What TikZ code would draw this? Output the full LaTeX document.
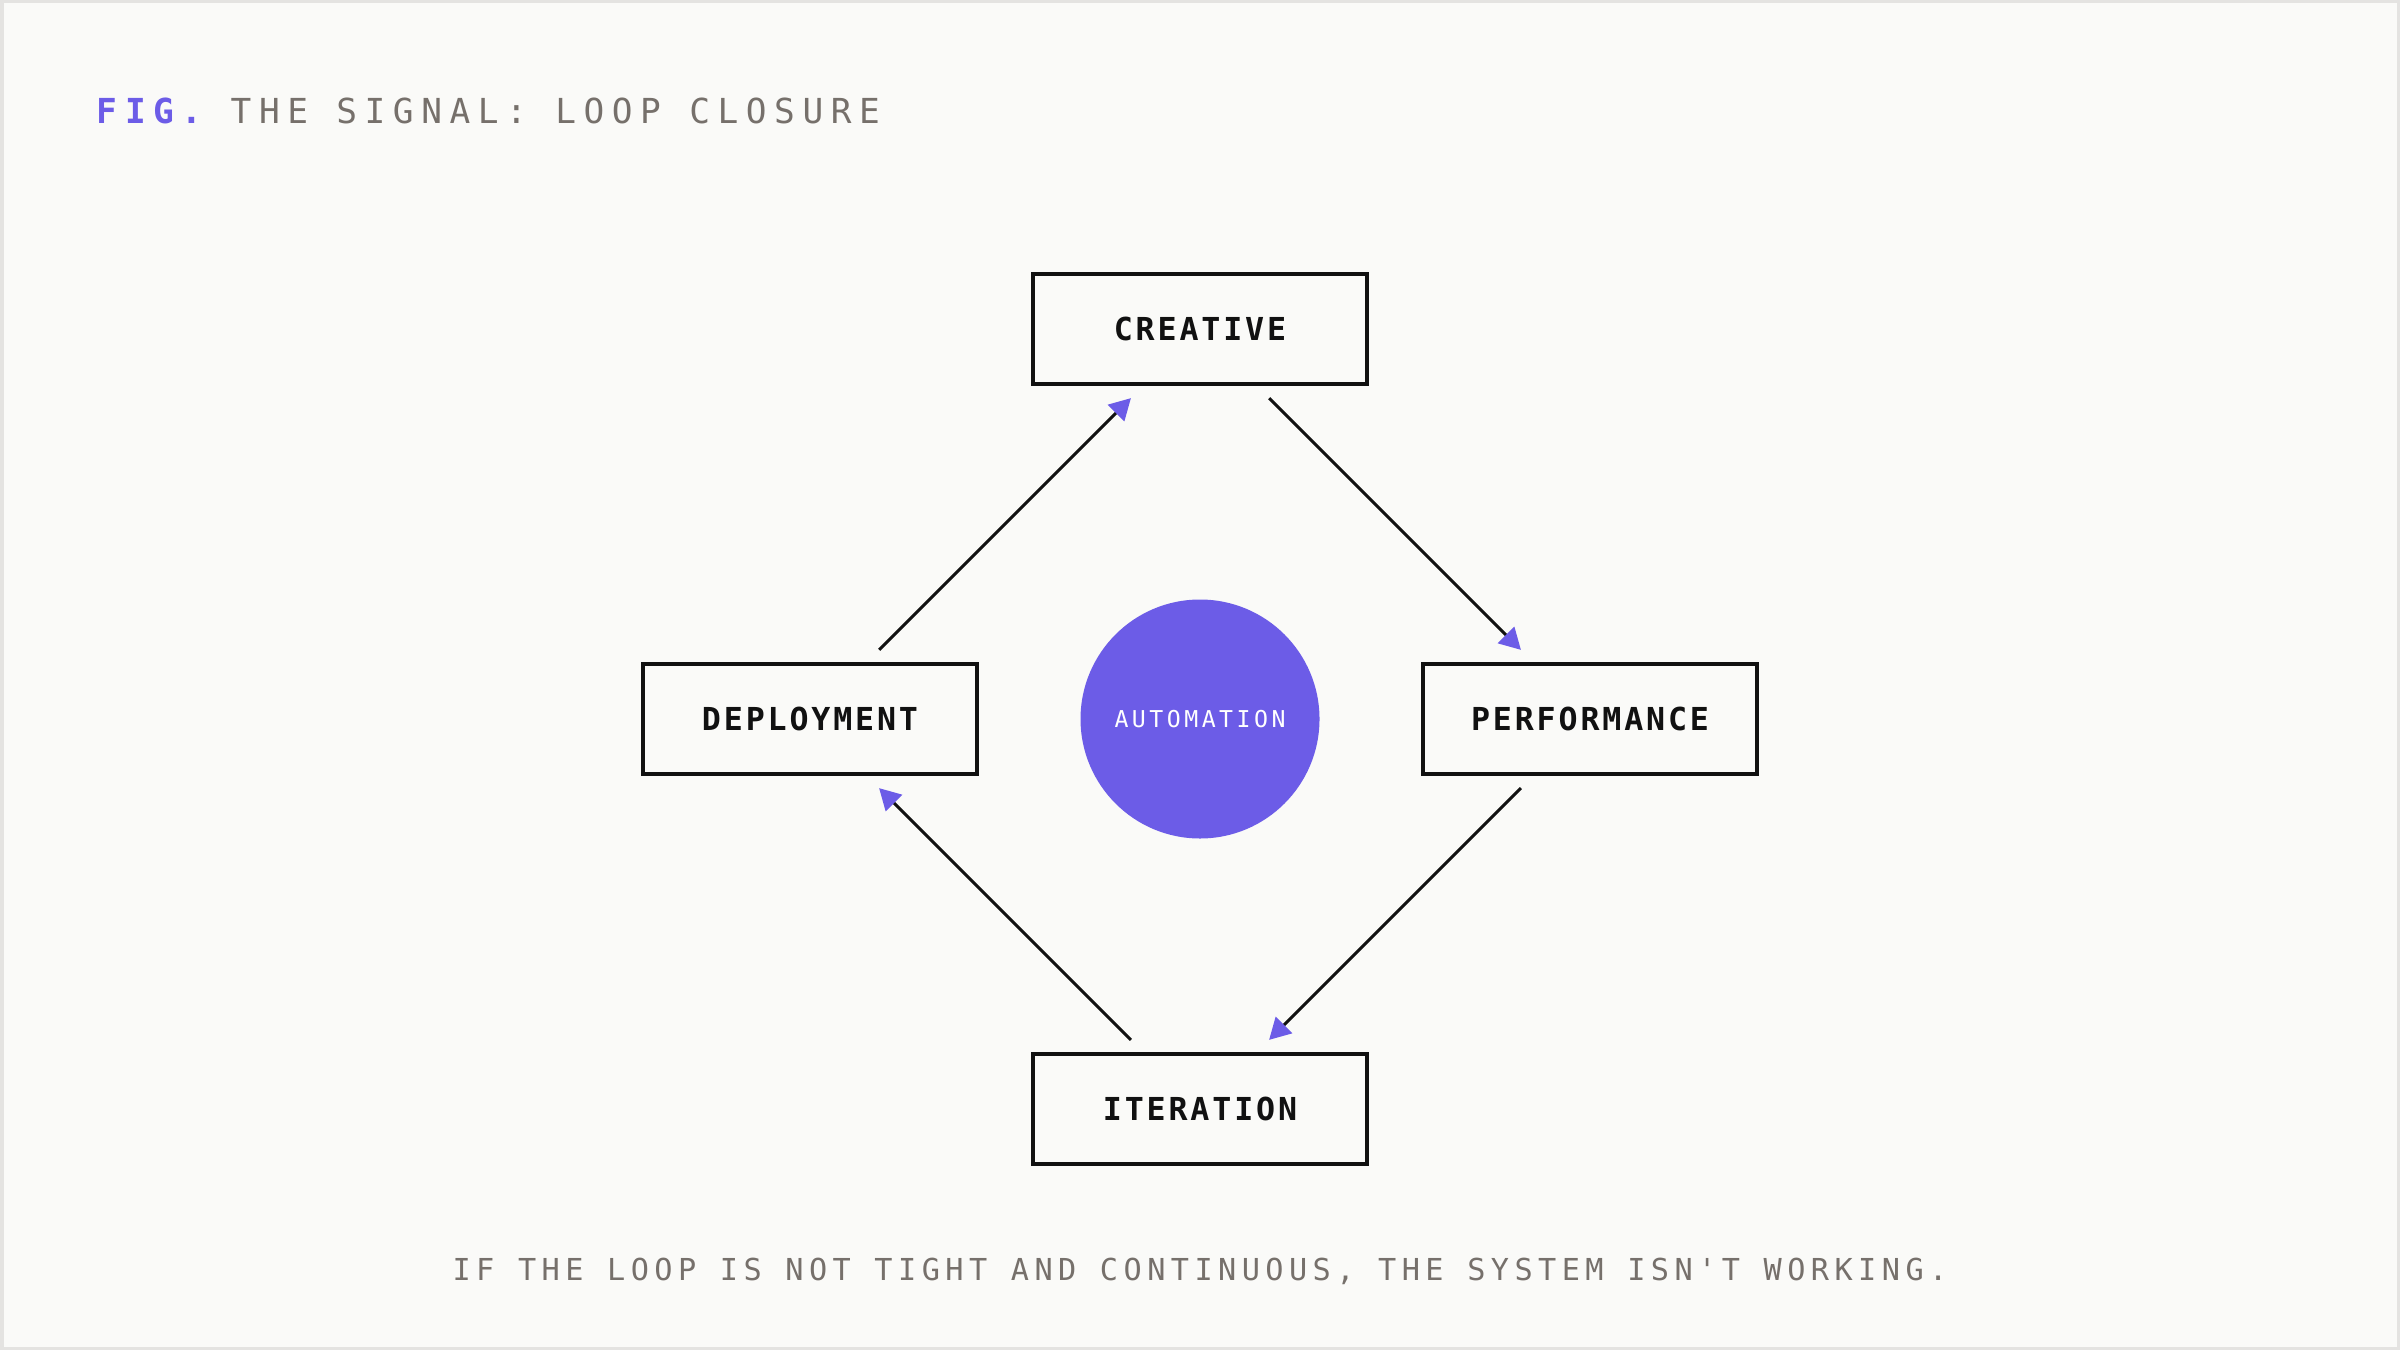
\documentclass[tikz,border=0pt]{standalone}
\usepackage{fontspec}
\usepackage{xcolor}
\usetikzlibrary{arrows.meta}

\newfontfamily\titlefont{DejaVu Sans Mono}[LetterSpace=22]
\newfontfamily\stagefont{DejaVu Sans Mono}[LetterSpace=9]
\newfontfamily\hubfont{DejaVu Sans Mono}[LetterSpace=15]
\newfontfamily\notefont{DejaVu Sans Mono}[LetterSpace=18]

\definecolor{accent}{HTML}{6C5CE7}
\definecolor{ink}{HTML}{111111}
\definecolor{muted}{HTML}{76706B}
\definecolor{paper}{HTML}{FAFAF8}
\definecolor{edge}{HTML}{E4E3E1}

\begin{document}
\begin{tikzpicture}[
		stage/.style={draw=ink, line width=1.2pt, fill=paper, outer sep=0pt,
			minimum width=3.34cm, minimum height=1.1cm,
			font=\stagefont\bfseries\fontsize{9pt}{11pt}\selectfont, text=ink},
		hub/.style={circle, fill=accent, minimum size=2.39cm, inner sep=0pt,
			font=\hubfont\fontsize{6.6pt}{8pt}\selectfont, text=white},
		flow/.style={draw=ink, line width=0.85pt, shorten <=0.2cm, shorten >=0.2cm,
			-{Triangle[length=6pt, width=6.5pt, color=accent]}}
	]
			\def\W{24};
			\def\H{13.5};
			\def\r{3.9};

			\coordinate (centre) at (12,6.31);

			% page and its thin frame
			\fill [edge] (0,0) rectangle (\W,\H);
			\fill [paper] (0.035,0.035) rectangle (\W-0.035,\H-0.035);

			\node [anchor=base west, inner sep=0pt, font=\titlefont\fontsize{9.8pt}{12pt}\selectfont]
				(title) at (0.96,12.26) {\textcolor{accent}{\bfseries FIG.} \textcolor{muted}{THE SIGNAL: LOOP CLOSURE}};

			% the four stages round the hub
			\node [hub] (automation) at (centre) {AUTOMATION};
			\node [stage] (creative) at ([yshift=\r cm] centre) {CREATIVE};
			\node [stage] (performance) at ([xshift=\r cm] centre) {PERFORMANCE};
			\node [stage] (iteration) at ([yshift=-\r cm] centre) {ITERATION};
			\node [stage] (deployment) at ([xshift=-\r cm] centre) {DEPLOYMENT};

			\begin{scope}
				\draw [flow] (creative) -- (performance);
				\draw [flow] (performance) -- (iteration);
				\draw [flow] (iteration) -- (deployment);
				\draw [flow] (deployment) -- (creative);
			\end{scope}

			\node [anchor=base, inner sep=0pt, text=muted, font=\notefont\fontsize{8.6pt}{10pt}\selectfont]
				(note) at (12,0.70) {IF THE LOOP IS NOT TIGHT AND CONTINUOUS, THE SYSTEM ISN'T WORKING.};
		\end{tikzpicture}
\end{document}
